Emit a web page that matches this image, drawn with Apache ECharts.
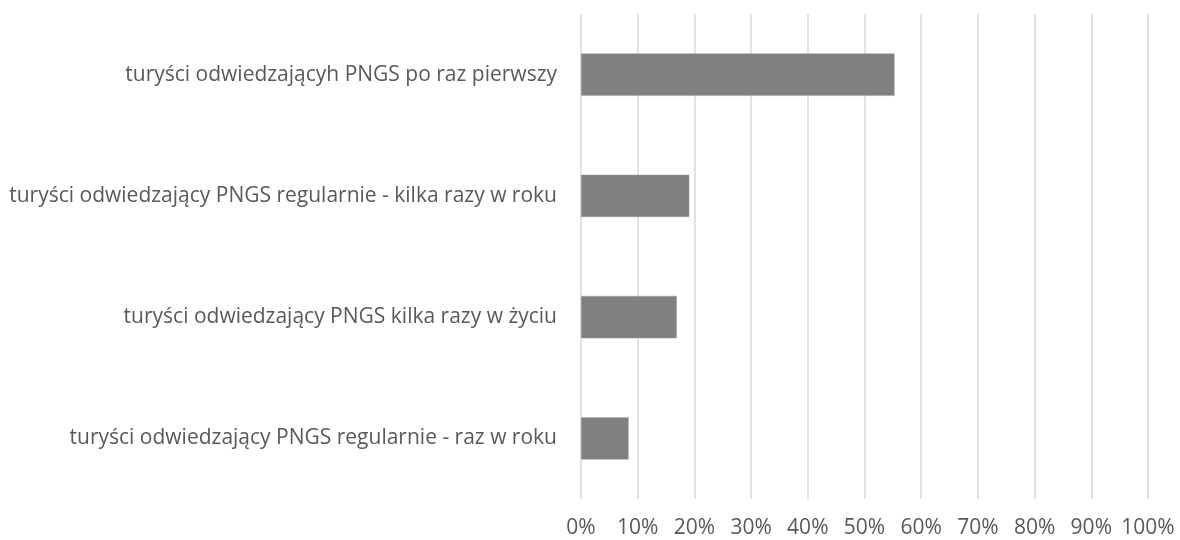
<!DOCTYPE html>
<html>
<head>
<meta charset="utf-8">
<script src="https://cdn.jsdelivr.net/npm/echarts@6/dist/echarts.min.js"></script>
<style>
html,body{margin:0;padding:0;background:#fff;}
#chart{width:1180px;height:540px;}
</style>
</head>
<body>
<div id="chart"></div>
<script>
const categories = [
  "turyści odwiedzający PNGS regularnie - raz w roku",
  "turyści odwiedzający PNGS kilka razy w życiu",
  "turyści odwiedzający PNGS regularnie - kilka razy w roku",
  "turyści odwiedzającyh PNGS po raz pierwszy"
];
const values = [8.4, 16.9, 19.1, 55.3];
const xTicks = [0, 10, 20, 30, 40, 50, 60, 70, 80, 90, 100];

const chart = echarts.init(document.getElementById('chart'));
const FONT = '"Open Sans"';
chart.setOption({
  animation: false,
  grid: { left: 581, right: 32, top: 14, bottom: 41, containLabel: false },
  xAxis: {
    type: 'value',
    min: xTicks[0],
    max: xTicks[xTicks.length - 1],
    interval: 10,
    axisLine: { show: false },
    axisTick: { show: false },
    splitLine: { show: true, lineStyle: { color: '#d9d9d9', width: 1.5 } },
    axisLabel: {
      margin: 19,
      color: '#595959',
      fontFamily: FONT,
      fontSize: 21,
      formatter: v => v + '%'
    }
  },
  yAxis: {
    type: 'category',
    data: categories,
    axisLine: { show: false },
    axisTick: { show: false },
    axisLabel: {
      margin: 24,
      color: '#595959',
      fontFamily: FONT,
      fontSize: 21
    }
  },
  series: [{
    type: 'bar',
    data: values,
    barCategoryGap: '65%',
    itemStyle: { color: '#808080', borderColor: '#a0a0a0', borderWidth: 0.5 }
  }]
});
</script>
</body>
</html>
